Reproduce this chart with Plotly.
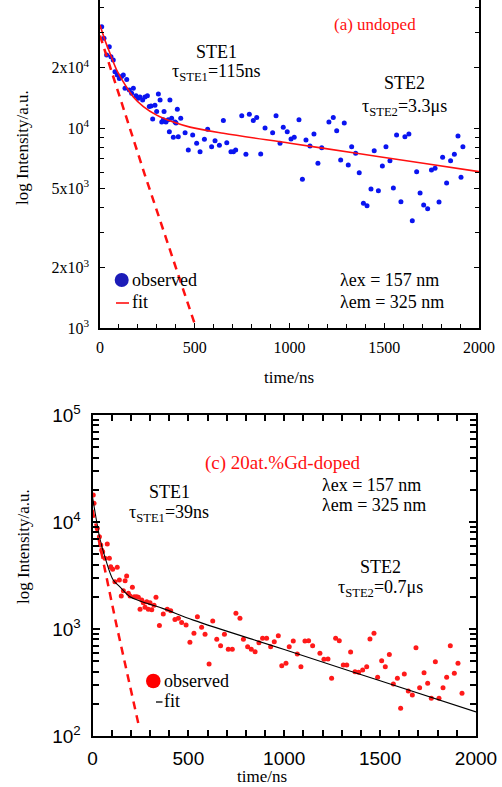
import plotly.graph_objects as go

W, H = 502, 787

# ---------------- data: (a) undoped ----------------
a_time = [9, 21, 35, 49, 58, 70, 79, 91, 102, 114, 123, 132, 141, 155, 167, 176, 190, 202, 211, 225,
          237, 250, 260, 269, 278, 290, 299, 308, 317, 326, 334, 338, 348, 360, 366, 369, 378, 387, 396, 401,
          408, 413, 426, 449, 466, 489, 510, 528, 551, 568, 589, 607, 630, 651, 669, 691, 704, 716, 748, 770,
          788, 809, 827, 848, 871, 911, 929, 950, 967, 988, 1008, 1025, 1050, 1068, 1087, 1108, 1129, 1150, 1170, 1208,
          1231, 1249, 1270, 1289, 1310, 1328, 1349, 1368, 1390, 1409, 1430, 1447, 1469, 1490, 1509, 1530, 1548, 1565, 1588, 1609,
          1630, 1648, 1671, 1689, 1708, 1729, 1749, 1768, 1789, 1808, 1829, 1850, 1870, 1889, 1905, 1915]
a_obs = [32100, 28100, 23200, 25500, 22700, 21900, 19100, 18400, 17700, 18100, 18400, 15800, 17500, 15500, 14900, 15800, 14500, 14100, 14300, 13800,
         14300, 14500, 12800, 12900, 11100, 13000, 12100, 14800, 13800, 10700, 11000, 12100, 10700, 11000, 9580, 13800, 11200, 8990, 10700, 10600,
         12400, 9050, 11200, 9470, 7760, 9230, 8390, 7610, 8780, 9850, 8060, 8640, 8200, 10900, 8440, 7610, 7610, 7760, 11500, 7390,
         11700, 10900, 11300, 7410, 10000, 9470, 11500, 8390, 10100, 9580, 8810, 8990, 11000, 5540, 8710, 8130, 9330, 6660, 7970, 10700,
         11300, 9690, 6920, 10600, 6530, 8060, 7470, 5980, 4200, 4090, 4950, 7700, 4860, 6460, 8060, 6860, 5010, 9230, 4280, 9050,
         9330, 3440, 6050, 4730, 4120, 3950, 6170, 6290, 4270, 7140, 5310, 6860, 7390, 9120, 5670, 8060]
a_fit_time = [0, 26, 53, 88, 123, 176, 229, 299, 387, 475, 651, 1003, 1354, 1706, 2000]
a_fit = [32700, 27500, 23600, 19500, 17000, 14300, 12800, 11600, 10700, 10100, 9410, 8390, 7480, 6660, 6050]
a_fast_time = [0, 237, 507]
a_fast = [29000, 5820, 1000]

# ---------------- data: (c) 20at.%Gd-doped ----------------
c_time = [4, 8, 25, 36, 43, 48, 53, 65, 77, 88, 95, 105, 117, 129, 140, 150, 161, 170, 178, 187,
          196, 208, 218, 230, 239, 248, 257, 265, 274, 283, 291, 300, 309, 321, 331, 349, 369, 390, 408, 430,
          448, 465, 488, 508, 529, 547, 569, 587, 608, 627, 648, 668, 688, 708, 729, 748, 769, 787, 809, 828,
          848, 868, 887, 908, 929, 948, 969, 987, 1009, 1026, 1047, 1068, 1087, 1108, 1127, 1148, 1186, 1207, 1228, 1247,
          1268, 1287, 1308, 1326, 1346, 1369, 1388, 1409, 1430, 1447, 1468, 1487, 1508, 1527, 1548, 1569, 1590, 1607, 1626, 1647,
          1668, 1687, 1706, 1729, 1748, 1767, 1788, 1807, 1828, 1847, 1866, 1887, 1906, 1927]
c_obs = [17900, 15000, 8730, 7280, 6100, 5470, 5270, 4580, 6220, 4580, 3820, 3610, 2770, 3780, 2870, 2030, 2280, 2820, 3130, 2160,
         2030, 2450, 2000, 2000, 1980, 1530, 1870, 1760, 1600, 1800, 1530, 1760, 1510, 1670, 1980, 1080, 1380, 1530, 1480, 1230,
         1260, 1150, 1090, 752, 912, 1300, 1040, 891, 471, 1190, 802, 698, 891, 646, 646, 1400, 1260, 802, 684, 646,
         614, 745, 818, 818, 684, 760, 865, 454, 479, 684, 773, 583, 445, 773, 778, 698, 593, 521, 525, 346,
         818, 778, 461, 461, 610, 399, 394, 414, 445, 807, 912, 354, 506, 445, 579, 306, 346, 182, 379, 264,
         242, 668, 283, 391, 311, 225, 494, 225, 283, 354, 698, 385, 479, 251]
c_fit_time = [0, 20, 40, 65, 108, 143, 196, 283, 369, 526, 1000, 1500, 2000]
c_fit = [17200, 10500, 6800, 4700, 2870, 2480, 2000, 1740, 1550, 1210, 643, 328, 168]
c_fast_time = [0, 123, 239]
c_fast = [13000, 1130, 131]

a_yticks = [1000, 2000, 5000, 10000, 20000]
a_yticktext = ["10<sup>3</sup>", "2x10<sup>3</sup>", "5x10<sup>3</sup>", "10<sup>4</sup>", "2x10<sup>4</sup>"]
a_yminor = [3000, 4000, 6000, 7000, 8000, 9000, 30000, 40000]
c_yticks = [100, 1000, 10000, 100000]
c_yticktext = ["10<sup>2</sup>", "10<sup>3</sup>", "10<sup>4</sup>", "10<sup>5</sup>"]
c_yminor = [m * d for d in (100, 1000, 10000) for m in range(2, 10)]
xticks = [0, 500, 1000, 1500, 2000]

SERIF = "Liberation Serif, Times New Roman, serif"
SANS = "Liberation Sans, Arial, sans-serif"


def px(x):
    return x / W


def py(y):
    return 1 - y / H


fig = go.Figure()

# (a) panel
fig.add_trace(go.Scatter(x=a_time, y=a_obs, mode="markers", marker=dict(size=5, color="#0a14f0"),
                         xaxis="x", yaxis="y", showlegend=False))
fig.add_trace(go.Scatter(x=a_fit_time, y=a_fit, mode="lines", line=dict(color="#ff1010", width=1.6, shape="spline"),
                         xaxis="x", yaxis="y", showlegend=False))
fig.add_trace(go.Scatter(x=a_fast_time, y=a_fast, mode="lines", line=dict(color="#ff1010", width=2.5, dash="8px,6px"),
                         xaxis="x", yaxis="y", showlegend=False))

# (c) panel
fig.add_trace(go.Scatter(x=c_time, y=c_obs, mode="markers", marker=dict(size=5, color="#ff1a1a"),
                         xaxis="x2", yaxis="y2", showlegend=False))
fig.add_trace(go.Scatter(x=c_fit_time, y=c_fit, mode="lines", line=dict(color="black", width=1.1, shape="spline"),
                         xaxis="x2", yaxis="y2", showlegend=False))
fig.add_trace(go.Scatter(x=c_fast_time, y=c_fast, mode="lines", line=dict(color="#ff1010", width=2.5, dash="8px,6px"),
                         xaxis="x2", yaxis="y2", showlegend=False))

axcommon = dict(showgrid=False, zeroline=False, linecolor="black", ticks="inside", tickcolor="black",
                automargin=False, showline=True)

fig.update_layout(
    template="none",
    width=W, height=H, margin=dict(l=0, r=0, t=0, b=0, pad=0, autoexpand=False),
    paper_bgcolor="white", plot_bgcolor="white",
    font=dict(family=SERIF, size=17, color="black"),
    xaxis=dict(**axcommon, domain=[px(100), px(479)], anchor="y", range=[0, 2000], linewidth=1.5,
               tickvals=xticks, ticklen=5, tickwidth=1,
               minor=dict(dtick=100, tick0=0, ticks="inside", ticklen=4, tickcolor="black"),
               tickfont=dict(family=SERIF, size=16, color="black"), ticklabelstandoff=4),
    yaxis=dict(**axcommon, domain=[py(328), 1.0], anchor="x", type="log", range=[3, 4.64], linewidth=1.5,
               mirror="ticks", tickvals=a_yticks, ticktext=a_yticktext, ticklen=5, tickwidth=1,
               minor=dict(tickvals=a_yminor, ticks="inside", ticklen=4, tickcolor="black"),
               tickfont=dict(family=SERIF, size=16, color="black"), ticklabelstandoff=6),
    xaxis2=dict(**axcommon, domain=[px(92.5), px(476)], anchor="y2", range=[0, 2000], linewidth=2,
                mirror="ticks", tickvals=xticks, ticklen=6, tickwidth=1.5,
                minor=dict(dtick=100, tick0=0, ticks="inside", ticklen=6, tickcolor="black", tickwidth=1.5),
                tickfont=dict(family=SANS, size=19, color="black"), ticklabelstandoff=4),
    yaxis2=dict(**axcommon, domain=[py(736), py(415)], anchor="x2", type="log", range=[2, 5], linewidth=2,
                mirror="ticks", tickvals=c_yticks, ticktext=c_yticktext, ticklen=7, tickwidth=1.5,
                minor=dict(tickvals=c_yminor, ticks="inside", ticklen=6, tickcolor="black", tickwidth=1.5),
                tickfont=dict(family=SANS, size=19, color="black"), ticklabelstandoff=6),
)

ann = []


def text(x, y, s, size=17, color="black", anchor="center", font=SERIF, angle=0):
    ann.append(dict(x=px(x), y=py(y), xref="paper", yref="paper", text=s, showarrow=False,
                    xanchor=anchor, yanchor="middle", textangle=angle,
                    font=dict(family=font, size=size, color=color)))


# panel (a) texts
text(375, 25, "(a) undoped", 17, "#ff1010")
text(216, 52, "STE1", 18)
text(216, 72, "τ<sub>STE1</sub>=115ns", 18)
text(404, 83, "STE2", 18)
text(404, 107, "τ<sub>STE2</sub>=3.3μs", 18)
text(130, 280, "observed", 18, anchor="left")
text(130, 302, "fit", 18, anchor="left")
text(338, 280, "λex = 157 nm", 18, anchor="left")
text(338, 302, "λem = 325 nm", 18, anchor="left")
text(289, 378, "time/ns", 17)
text(23, 148, "log Intensity/a.u.", 17, angle=-90)

# panel (c) texts
text(283, 463, "(c) 20at.%Gd-doped", 19, "#ff1010")
text(169, 492, "STE1", 18)
text(169, 513, "τ<sub>STE1</sub>=39ns", 18)
text(320, 485, "λex = 157 nm", 18, anchor="left")
text(320, 505, "λem = 325 nm", 18, anchor="left")
text(380, 567, "STE2", 18)
text(380, 588, "τ<sub>STE2</sub>=0.7μs", 18)
text(162, 681, "observed", 18, anchor="left")
text(162, 701, "fit", 18, anchor="left")
text(262, 776, "time/ns", 17)
text(23, 547, "log Intensity/a.u.", 17, angle=-90)

fig.update_layout(annotations=ann)

shapes = [
    dict(type="circle", xref="paper", yref="paper", x0=px(114.7), x1=px(128.7), y0=py(287), y1=py(273),
         fillcolor="#1c1cb8", line=dict(width=0)),
    dict(type="line", xref="paper", yref="paper", x0=px(116), x1=px(129), y0=py(303), y1=py(303),
         line=dict(color="#ff1010", width=1.6)),
    dict(type="circle", xref="paper", yref="paper", x0=px(146), x1=px(160.6), y0=py(688.3), y1=py(673.7),
         fillcolor="#ff0000", line=dict(width=0)),
    dict(type="line", xref="paper", yref="paper", x0=px(156), x1=px(162.5), y0=py(702), y1=py(702),
         line=dict(color="black", width=1.3)),
]
fig.update_layout(shapes=shapes)

fig.write_html("out.html", config={"displayModeBar": False},
               post_script="document.body.style.margin='0';document.body.style.overflow='hidden';")
